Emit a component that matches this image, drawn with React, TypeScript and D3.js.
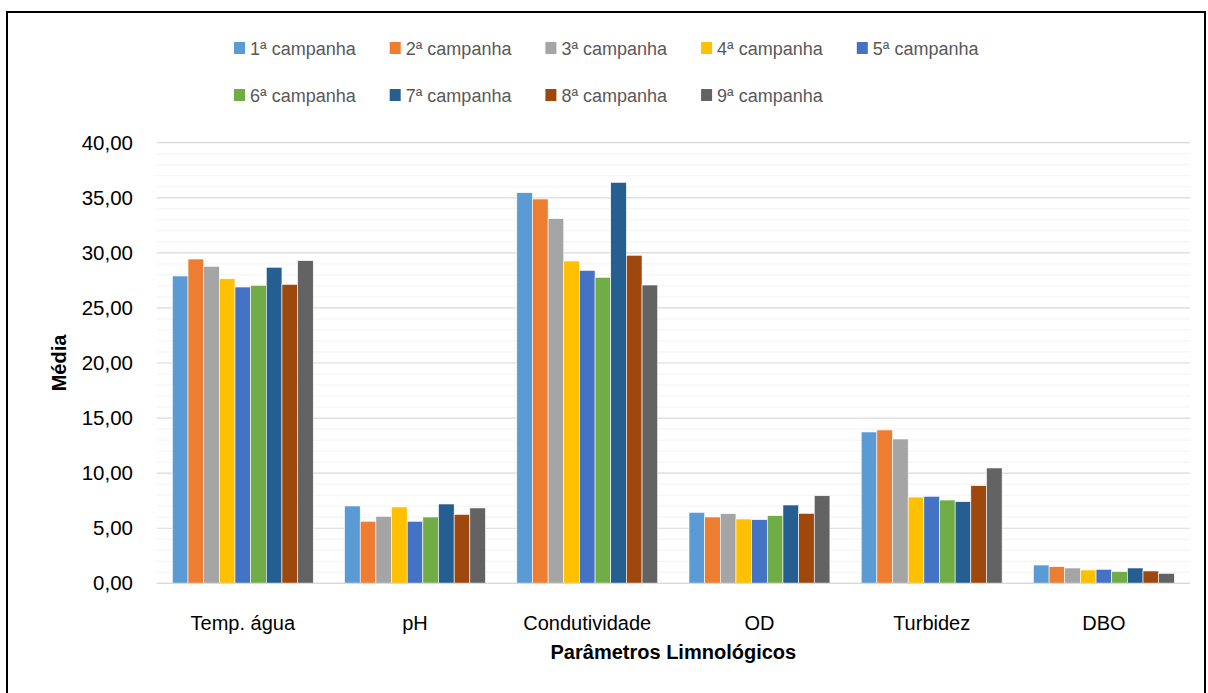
import React from 'react';
import * as d3 from 'd3';

const categories = ['Temp. água', 'pH', 'Condutividade', 'OD', 'Turbidez', 'DBO'];

const seriesNames = [
  '1ª campanha', '2ª campanha', '3ª campanha', '4ª campanha', '5ª campanha',
  '6ª campanha', '7ª campanha', '8ª campanha', '9ª campanha',
];

// one array per campanha, values in the order of categories
const camp1 = [27.9, 7.02, 35.46, 6.44, 13.74, 1.66];
const camp2 = [29.44, 5.63, 34.89, 6.02, 13.92, 1.51];
const camp3 = [28.78, 6.08, 33.1, 6.32, 13.1, 1.39];
const camp4 = [27.65, 6.93, 29.26, 5.84, 7.83, 1.21];
const camp5 = [26.9, 5.63, 28.41, 5.78, 7.9, 1.27];
const camp6 = [27.05, 6.02, 27.78, 6.14, 7.56, 1.06];
const camp7 = [28.69, 7.2, 36.4, 7.11, 7.41, 1.39];
const camp8 = [27.14, 6.26, 29.78, 6.35, 8.86, 1.12];
const camp9 = [29.29, 6.84, 27.08, 7.95, 10.47, 0.9];

const seriesValues = [camp1, camp2, camp3, camp4, camp5, camp6, camp7, camp8, camp9];

const colors = [
  '#5B9BD5', '#ED7D31', '#A5A5A5', '#FFC000', '#4472C4',
  '#70AD47', '#255E91', '#9E480E', '#636363',
];

const yTicks = [0, 5, 10, 15, 20, 25, 30, 35, 40];

const W = 1208;
const H = 693;
const plot = { left: 156.7, right: 1190, top: 142.7, bottom: 583.3 };
const FONT = '"Liberation Sans", Arial, sans-serif';

const fmt = (v: number) => v.toFixed(2).replace('.', ',');

const App: React.FC = () => {
  const y = d3.scaleLinear().domain([0, 40]).range([plot.bottom, plot.top]);

  const x0 = d3.scaleBand<string>()
    .domain(categories)
    .range([plot.left, plot.right])
    .paddingInner(2 / 11)
    .paddingOuter(1 / 11);

  const x1 = d3.scaleBand<string>()
    .domain(seriesNames)
    .range([0, x0.bandwidth()]);

  const minorTicks = d3.range(1, 41).filter(v => v % 5 !== 0);

  // legend laid out in two rows like the original
  const legendRows = [seriesNames.slice(0, 5), seriesNames.slice(5)];
  const legendX = d3.scaleLinear().domain([0, 1]).range([234, 389.7]);
  const legendY = [48, 95];

  return (
    <svg width={W} height={H} style={{ position: 'absolute', left: 0, top: 0, background: '#fff' }}>
      <rect x={7} y={12} width={1198} height={700} fill="#fff" stroke="#000" strokeWidth={2} />

      {/* gridlines */}
      <g>
        {minorTicks.map(v => (
          <line key={'m' + v} x1={plot.left} x2={plot.right} y1={y(v)} y2={y(v)} stroke="#f2f2f2" strokeWidth={1} />
        ))}
        {yTicks.map(v => (
          <line key={'g' + v} x1={plot.left} x2={plot.right} y1={y(v)} y2={y(v)} stroke="#d9d9d9" strokeWidth={1.2} />
        ))}
      </g>

      {/* bars */}
      <g>
        {seriesValues.map((vals, si) => (
          <g key={seriesNames[si]} fill={colors[si]}>
            {vals.map((v, ci) => (
              <rect
                key={categories[ci]}
                x={(x0(categories[ci]) ?? 0) + (x1(seriesNames[si]) ?? 0)}
                y={y(v)}
                width={x1.bandwidth()}
                height={y(0) - y(v)}
                stroke="#fff"
                strokeWidth={0.6}
              />
            ))}
          </g>
        ))}
      </g>

      <line x1={plot.left} x2={plot.right} y1={y(0)} y2={y(0)} stroke="#d9d9d9" strokeWidth={1.2} />

      {/* y axis labels */}
      <g fontFamily={FONT} fontSize={20.5} fill="#000" textAnchor="end">
        {yTicks.map(v => (
          <text key={v} x={133} y={y(v) + 7}>{fmt(v)}</text>
        ))}
      </g>

      {/* category labels */}
      <g fontFamily={FONT} fontSize={20} fill="#000" textAnchor="middle">
        {categories.map(c => (
          <text key={c} x={(x0(c) ?? 0) + x0.bandwidth() / 2} y={630}>{c}</text>
        ))}
      </g>

      <text x={(plot.left + plot.right) / 2} y={659} textAnchor="middle" fontFamily={FONT} fontSize={20} fontWeight="bold" fill="#000">
        Parâmetros Limnológicos
      </text>
      <text transform={`translate(66, ${(plot.top + plot.bottom) / 2}) rotate(-90)`} textAnchor="middle" fontFamily={FONT} fontSize={20} fontWeight="bold" fill="#000">
        Média
      </text>

      {/* legend */}
      <g fontFamily={FONT} fontSize={18} fill="#595959">
        {legendRows.map((row, ri) =>
          row.map((name, i) => {
            const si = ri * 5 + i;
            const lx = legendX(i);
            return (
              <g key={name}>
                <rect x={lx} y={legendY[ri] - 6} width={11} height={12} fill={colors[si]} />
                <text x={lx + 16} y={legendY[ri] + 6.5}>{name}</text>
              </g>
            );
          })
        )}
      </g>
    </svg>
  );
};

export default App;
